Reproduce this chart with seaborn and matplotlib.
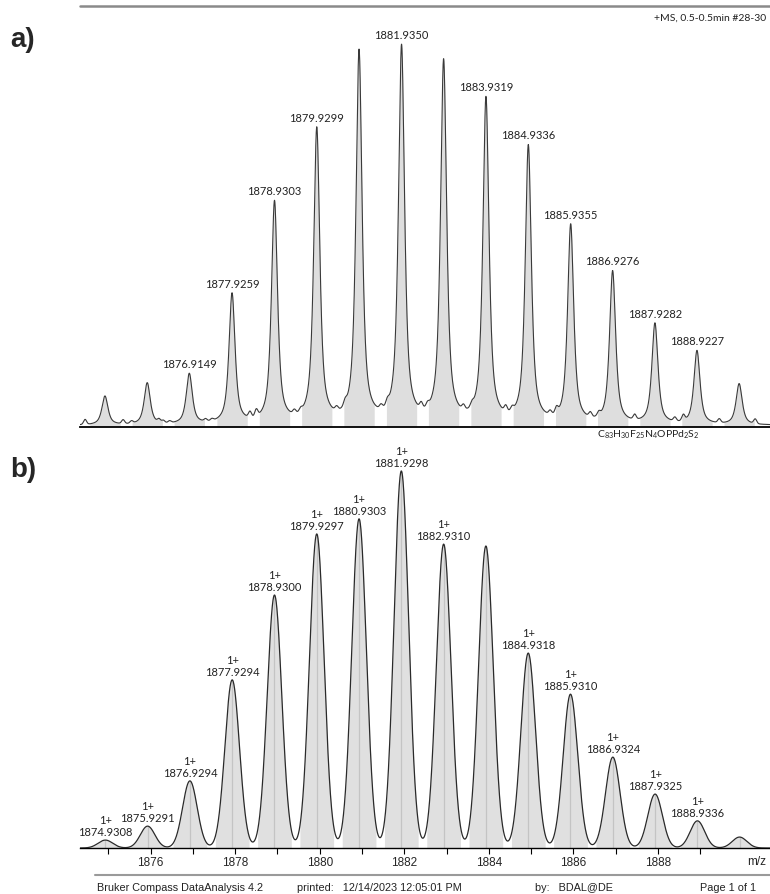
import numpy as np
import pandas as pd
import matplotlib
matplotlib.use("Agg")
import matplotlib.pyplot as plt
import seaborn as sns

# ---------------- data ----------------
# (a) measured spectrum: peak centres (m/z) and relative intensities (%)
a_mz = [1874.92, 1875.92, 1876.9149, 1877.9259, 1878.9303, 1879.9299, 1880.93,
        1881.9350, 1882.93, 1883.9319, 1884.9336, 1885.9355, 1886.9276,
        1887.9282, 1888.9227, 1889.92]
a_int = [7.6, 11.0, 13.3, 34.3, 58.4, 77.5, 97.8, 99.0, 95.2, 85.4, 72.9,
         52.2, 40.1, 26.5, 19.4, 10.8]
a_labels = ["", "", "1876.9149", "1877.9259", "1878.9303", "1879.9299", "",
            "1881.9350", "", "1883.9319", "1884.9336", "1885.9355", "1886.9276",
            "1887.9282", "1888.9227", ""]
# small baseline noise bumps in (a)
noise_mz = [1874.45, 1875.35, 1875.55, 1876.2, 1876.3, 1876.45, 1877.3, 1877.45,
            1878.35, 1878.5, 1879.4, 1879.55, 1880.4, 1880.6, 1881.45, 1881.6,
            1882.4, 1882.55, 1883.4, 1883.6, 1884.4, 1884.55, 1885.45, 1885.6,
            1886.4, 1886.6, 1887.45, 1888.4, 1888.6, 1889.45, 1890.3]
noise_int = [1.3, 1.0, 0.6, 0.8, 0.6, 0.5, 0.6, 0.5, 1.5, 1.8, 1.0, 0.8, 1.0,
             1.2, 1.0, 1.2, 1.5, 1.0, 1.2, 1.0, 1.5, 1.0, 1.0, 1.5, 1.2, 1.0,
             1.3, 1.0, 1.5, 1.0, 1.2]

# (b) simulated isotope pattern
b_mz = [1874.9308, 1875.9291, 1876.9294, 1877.9294, 1878.9300, 1879.9297,
        1880.9303, 1881.9298, 1882.9310, 1883.93, 1884.9318, 1885.9310,
        1886.9324, 1887.9325, 1888.9336, 1889.93]
b_int = [2.1, 5.8, 17.8, 44.6, 67.1, 83.3, 87.3, 100.0, 80.6, 80.1, 51.7,
         40.8, 24.1, 14.3, 7.2, 2.9]
b_labels = ["1874.9308", "1875.9291", "1876.9294", "1877.9294", "1878.9300",
            "1879.9297", "1880.9303", "1881.9298", "1882.9310", "",
            "1884.9318", "1885.9310", "1886.9324", "1887.9325", "1888.9336", ""]
b_charge = "1+"

xticks_major = [1876, 1878, 1880, 1882, 1884, 1886, 1888]
xticks_minor = [1875, 1877, 1879, 1881, 1883, 1885, 1887, 1889]

header_text = "+MS, 0.5-0.5min #28-30"
formula_text = r"C$_{83}$H$_{30}$F$_{25}$N$_{4}$OPPd$_{2}$S$_{2}$"
footer = ["Bruker Compass DataAnalysis 4.2", "printed:   12/14/2023 12:05:01 PM",
          "by:   BDAL@DE", "Page 1 of 1"]

# ---------------- style ----------------
sns.set_theme(style="white")
plt.rcParams["font.family"] = ["Lato", "DejaVu Sans"]
plt.rcParams["mathtext.fontset"] = "custom"
plt.rcParams["mathtext.rm"] = "Lato"

XMIN, XMAX = 1874.33, 1890.65
grid = np.linspace(XMIN, XMAX, 6000)


def profile_a(x):
    y = np.full_like(x, 0.4)
    fw = 0.17
    g = fw / 2
    s = fw / 2.3548
    for c, h in zip(a_mz, a_int):
        lor = 1.0 / (1.0 + ((x - c) / g) ** 2)
        gau = np.exp(-0.5 * ((x - c) / s) ** 2)
        y += h * (0.75 * lor + 0.25 * gau)
    for c, h in zip(noise_mz, noise_int):
        y += h * np.exp(-0.5 * ((x - c) / 0.035) ** 2)
    return y


def profile_b(x):
    y = np.zeros_like(x)
    s = 0.172
    for c, h in zip(b_mz, b_int):
        y += h * np.exp(-0.5 * ((x - c) / s) ** 2)
    return y


W, H = 770, 895
fig = plt.figure(figsize=(7.7, 8.95), dpi=100)
ax_a = fig.add_axes([80 / W, 1 - 428 / H, 690 / W, (428 - 20) / H])
ax_b = fig.add_axes([80 / W, 1 - 849 / H, 690 / W, (849 - 455) / H])

# ---------------- panel a ----------------
ya = profile_a(grid)
dfa = pd.DataFrame({"mz": grid, "I": ya})
for c in a_mz:
    m = (grid >= c - 0.36) & (grid <= c + 0.36)
    ax_a.fill_between(grid[m], 0, ya[m], color="#dedede", lw=0, zorder=1)
sns.lineplot(data=dfa, x="mz", y="I", ax=ax_a, color="#3a3a3a", lw=0.8,
             zorder=3, estimator=None, sort=False)
for c, lab in zip(a_mz, a_labels):
    if lab:
        top = profile_a(np.array([c]))[0]
        ax_a.annotate(lab, (c, top), xytext=(0, 3), textcoords="offset points",
                      ha="center", va="bottom", fontsize=8, color="#222222")
ax_a.set_xlim(XMIN, XMAX)
ax_a.set_ylim(0, 107.4)
for sp in ["top", "left", "right"]:
    ax_a.spines[sp].set_visible(False)
ax_a.spines["bottom"].set_color("black")
ax_a.spines["bottom"].set_linewidth(1.3)
ax_a.set_xticks([])
ax_a.set_yticks([])
ax_a.set_xlabel("")
ax_a.set_ylabel("")

# ---------------- panel b ----------------
yb = profile_b(grid)
dfb = pd.DataFrame({"mz": grid, "I": yb})
for c in b_mz:
    m = (grid >= c - 0.4) & (grid <= c + 0.4)
    ax_b.fill_between(grid[m], 0, yb[m], color="#e0e0e0", lw=0, zorder=1)
    ax_b.vlines(c, 0, profile_b(np.array([c]))[0], color="#c4c4c4", lw=0.9, zorder=2)
sns.lineplot(data=dfb, x="mz", y="I", ax=ax_b, color="#2a2a2a", lw=0.9,
             zorder=3, estimator=None, sort=False)
for c, lab in zip(b_mz, b_labels):
    if lab:
        ax_b.annotate(b_charge + "\n" + lab, (c, profile_b(np.array([c]))[0]),
                      xytext=(0, 2), textcoords="offset points", ha="center",
                      va="bottom", fontsize=8, color="#222222", linespacing=1.1)
ax_b.set_xlim(XMIN, XMAX)
ax_b.set_ylim(0, 104.5)
for sp in ["top", "left", "right"]:
    ax_b.spines[sp].set_visible(False)
ax_b.spines["bottom"].set_color("black")
ax_b.spines["bottom"].set_linewidth(1.0)
ax_b.set_yticks([])
ax_b.set_xticks(xticks_major)
ax_b.set_xticks(xticks_minor, minor=True)
ax_b.set_xticklabels([str(t) for t in xticks_major],
                     fontfamily=["Liberation Sans", "DejaVu Sans"], fontsize=8.5)
ax_b.tick_params(axis="x", which="both", direction="out", bottom=True,
                 length=4, width=0.8, color="black", pad=2)
ax_b.set_xlabel("")
ax_b.set_ylabel("")
ax_b.text(1890.1, -0.018, "m/z", transform=ax_b.get_xaxis_transform(),
          ha="left", va="top", fontsize=8.5,
          fontfamily=["Liberation Sans", "DejaVu Sans"], clip_on=False)

# ---------------- page decorations ----------------
fig.add_artist(plt.Line2D([80 / W, 1.0], [1 - 7 / H, 1 - 7 / H],
                          color="#8a8a8a", lw=1.8, transform=fig.transFigure))
fig.text(766 / W, 1 - 18 / H, header_text, fontsize=7.5, ha="right", va="center",
         color="#222222")
fig.text(648 / W, 1 - 435 / H, formula_text, fontsize=7.5, ha="center",
         va="center", color="#222222")
fig.text(10 / W, 1 - 40 / H, "a)", fontsize=20, fontweight="bold",
         fontfamily=["Liberation Sans", "DejaVu Sans"], ha="left", va="center")
fig.text(10 / W, 1 - 470 / H, "b)", fontsize=20, fontweight="bold",
         fontfamily=["Liberation Sans", "DejaVu Sans"], ha="left", va="center")

fig.add_artist(plt.Line2D([95 / W, 1.0], [1 - 876 / H, 1 - 876 / H],
                          color="#9a9a9a", lw=1.5, transform=fig.transFigure))
foot_x = [97, 297, 535, 700]
for fx, t in zip(foot_x, footer):
    fig.text(fx / W, 1 - 888 / H, t, fontsize=7.8, ha="left", va="center",
             fontfamily=["Liberation Sans", "DejaVu Sans"], color="#222222")

fig.savefig("out.png", dpi=100)
